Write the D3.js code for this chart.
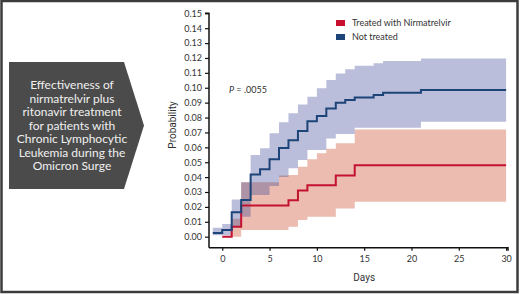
<!DOCTYPE html>
<html>
<head>
<meta charset="utf-8">
<script src="https://cdn.jsdelivr.net/npm/d3@7"></script>
<style>
  body { margin: 0; background: #fff; }
  svg { display: block; }
</style>
</head>
<body>
<div id="chart"></div>
<script>
'use strict';

// not treated: cumulative probability and confidence band
var notDays = [-1, 0, 1, 2, 3, 4, 5, 6, 7, 8, 9, 10, 11, 12, 13, 14, 16, 17, 21, 30];
var notProb = [0.0025, 0.0045, 0.0164, 0.0246, 0.0417, 0.0452, 0.052, 0.0595, 0.0647, 0.071, 0.0775, 0.081, 0.086, 0.090, 0.0917, 0.0935, 0.0951, 0.0967, 0.0985, 0.0985];
var notLo   = [0.001, 0.001, 0.0067, 0.0134, 0.028, 0.028, 0.034, 0.040, 0.0459, 0.0515, 0.0582, 0.0582, 0.066, 0.069, 0.069, 0.0732, 0.0732, 0.0732, 0.0772, 0.0772];
var notHi   = [0.006, 0.0085, 0.025, 0.0365, 0.0548, 0.0593, 0.0694, 0.0768, 0.0828, 0.0888, 0.094, 0.0996, 0.1052, 0.1096, 0.1125, 0.1148, 0.1165, 0.118, 0.1197, 0.1197];

// treated with nirmatrelvir
var trDays = [0, 1, 2, 7, 8, 9, 12, 14, 30];
var trProb = [0, 0.0067, 0.021, 0.0244, 0.031, 0.0345, 0.041, 0.048, 0.048];
var trBandDays = [0, 1, 2, 5, 6, 7, 8, 9, 10, 11, 12, 14, 30];
var trLo = [0, 0, 0.0045, 0.0045, 0.0045, 0.0067, 0.0112, 0.0134, 0.0134, 0.0134, 0.019, 0.0235, 0.0235];
var trHi = [0, 0.012, 0.0365, 0.0365, 0.041, 0.0414, 0.047, 0.052, 0.056, 0.059, 0.0627, 0.072, 0.072];

var yTicks = d3.range(0, 0.1501, 0.01);
var xTicks = [0, 5, 10, 15, 20, 25, 30];
var legendLabels = ['Treated with Nirmatrelvir', 'Not treated'];
var boxLines = ['Effectiveness of', 'nirmatrelvir plus', 'ritonavir treatment', 'for patients with',
  'Chronic Lymphocytic', 'Leukemia during the', 'Omicron Surge'];

var W = 520, H = 294;
var blueLine = '#1c4478', redLine = '#c3122f';

var svg = d3.select('#chart').append('svg')
  .attr('width', W)
  .attr('height', H);

svg.append('rect')
  .attr('x', 1.5).attr('y', 1)
  .attr('width', W - 4).attr('height', H - 3)
  .attr('fill', '#fff')
  .attr('stroke', '#3c3c3c')
  .attr('stroke-width', 2.5);

// arrow box on the left
svg.append('path')
  .attr('d', 'M9,62 L124,62 L144,125.5 L124,189 L9,189 Z')
  .attr('fill', '#4b4b4b');

svg.append('g').selectAll('text')
  .data(boxLines)
  .enter().append('text')
  .attr('x', 72)
  .attr('y', function(d, i) { return 85 + i * 13.5; })
  .attr('dy', '0.35em')
  .attr('text-anchor', 'middle')
  .attr('fill', '#f0f0f0')
  .style('font-family', 'Lato, sans-serif')
  .style('font-size', '12px')
  .text(function(d) { return d; });

var x = d3.scaleLinear().domain([-1.4, 30.2]).range([209, 508]);
var y = d3.scaleLinear().domain([-0.0074, 0.15]).range([247.7, 13.3]);

function rows(days, a, b) {
  return days.map(function(d, i) { return {d: d, a: a[i], b: b ? b[i] : null}; });
}

var area = d3.area()
  .curve(d3.curveStepAfter)
  .x(function(d) { return x(d.d); })
  .y0(function(d) { return y(d.a); })
  .y1(function(d) { return y(d.b); });

var line = d3.line()
  .curve(d3.curveStepAfter)
  .x(function(d) { return x(d.d); })
  .y(function(d) { return y(d.a); });

var plot = svg.append('g');

plot.append('path')
  .attr('d', area(rows(trBandDays, trLo, trHi)))
  .attr('fill', '#ecbcb0');

plot.append('path')
  .attr('d', area(rows(notDays, notLo, notHi)))
  .attr('fill', 'rgb(60,70,150)')
  .attr('fill-opacity', 0.35);

plot.append('path')
  .attr('d', line(rows(trDays, trProb)))
  .attr('fill', 'none')
  .attr('stroke', redLine)
  .attr('stroke-width', 2);

plot.append('path')
  .attr('d', line(rows(notDays, notProb)))
  .attr('fill', 'none')
  .attr('stroke', blueLine)
  .attr('stroke-width', 2);

// axes
var yAxis = d3.axisLeft(y).tickValues(yTicks).tickSize(4).tickPadding(3)
  .tickFormat(d3.format('.2f'));
var xAxis = d3.axisBottom(x).tickValues(xTicks).tickSize(3).tickPadding(5);

var gy = svg.append('g').attr('transform', 'translate(209,0)').call(yAxis);
var gx = svg.append('g').attr('transform', 'translate(0,247.7)').call(xAxis);

[gx, gy].forEach(function(g) {
  g.select('.domain').attr('stroke', '#111').attr('stroke-width', 1.5);
  g.selectAll('.tick line').attr('stroke', '#111').attr('stroke-width', 1.2);
  g.selectAll('.tick text')
    .attr('fill', '#333')
    .style('font-family', 'Lato, sans-serif')
    .style('font-size', '9px');
});
gy.select('.domain').attr('d', 'M-4,' + y(0.15) + 'H0V' + y.range()[0]);
gx.select('.domain').attr('d', 'M' + x.range()[0] + ',0H' + x.range()[1] + 'V3');

svg.append('text')
  .attr('transform', 'translate(172,125) rotate(-90)')
  .attr('text-anchor', 'middle')
  .attr('dy', '0.35em')
  .attr('fill', '#333')
  .style('font-family', '"Liberation Sans Narrow", "Roboto", sans-serif')
  .style('font-size', '10px')
  .text('Probability');

svg.append('text')
  .attr('x', x(15))
  .attr('y', 277)
  .attr('text-anchor', 'middle')
  .attr('dy', '0.35em')
  .attr('fill', '#333')
  .style('font-family', '"Liberation Sans Narrow", "Roboto", sans-serif')
  .style('font-size', '10px')
  .text('Days');

// p value
var pt = svg.append('text')
  .attr('x', 229).attr('y', 90)
  .attr('dy', '0.35em')
  .attr('fill', '#333')
  .style('font-family', 'Lato, sans-serif')
  .style('font-size', '9px');
pt.append('tspan').style('font-style', 'italic').text('P');
pt.append('tspan').text(' = .0055');

// legend
var legend = svg.append('g').selectAll('g')
  .data(legendLabels)
  .enter().append('g')
  .attr('transform', function(d, i) { return 'translate(336,' + (20 + i * 14) + ')'; });

legend.append('rect')
  .attr('width', 9).attr('height', 6)
  .attr('fill', function(d, i) { return i === 0 ? '#c8102e' : '#1c4478'; });

legend.append('text')
  .attr('x', 16).attr('y', 3)
  .attr('dy', '0.35em')
  .attr('fill', '#333')
  .style('font-family', 'Lato, sans-serif')
  .style('font-size', '9px')
  .text(function(d) { return d; });
</script>
</body>
</html>
